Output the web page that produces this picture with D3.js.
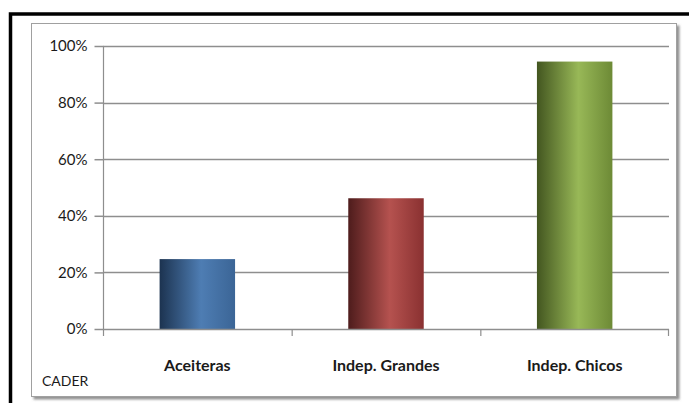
<!DOCTYPE html>
<html>
<head>
<meta charset="utf-8">
<script src="https://cdn.jsdelivr.net/npm/d3@7"></script>
<style>
body { margin: 0; background: #fff; }
svg { display: block; }
text { font-family: Lato, "Open Sans", sans-serif; fill: #1a1a1a; }
</style>
</head>
<body>
<div id="chart"></div>
<script>
// data
var categories = ['Aceiteras', 'Indep. Grandes', 'Indep. Chicos'];
var values     = [0.247, 0.462, 0.945];
var yTicks     = [0, 0.2, 0.4, 0.6, 0.8, 1.0];
var barColors  = [
	['#1c3350', '#4e7db3', '#3b6596'],
	['#4e1c1c', '#b5524f', '#8a3131'],
	['#435620', '#98b857', '#6d8a36']
];

var width = 689, height = 403;
var margin = {top: 46, right: 20, bottom: 74, left: 103};
var plotW = 669 - margin.left, plotH = 329 - margin.top;

var svg = d3.select('#chart').append('svg')
	.attr('width', width)
	.attr('height', height);

var defs = svg.append('defs');
barColors.forEach(function(c, i) {
	var g = defs.append('linearGradient')
		.attr('id', 'grad' + i)
		.attr('x1', '0%').attr('x2', '100%')
		.attr('y1', '0%').attr('y2', '0%');
	g.append('stop').attr('offset', '0%').attr('stop-color', c[0]);
	g.append('stop').attr('offset', '55%').attr('stop-color', c[1]);
	g.append('stop').attr('offset', '100%').attr('stop-color', c[2]);
});
var sh = defs.append('filter').attr('id', 'shadow')
	.attr('x', '-5%').attr('y', '-5%').attr('width', '110%').attr('height', '110%');
sh.append('feDropShadow').attr('dx', 2.5).attr('dy', 2.5).attr('stdDeviation', 1)
	.attr('flood-color', '#777').attr('flood-opacity', 0.8);

// outer black border (left and top visible)
svg.append('path')
	.attr('d', 'M10.5,403 L10.5,14 L689,14')
	.attr('fill', 'none')
	.attr('stroke', '#000')
	.attr('stroke-width', 3.5);

// chart frame
svg.append('rect')
	.attr('x', 31.5).attr('y', 23.5)
	.attr('width', 645).attr('height', 373)
	.attr('fill', '#fff')
	.attr('stroke', '#a0a0a0')
	.attr('stroke-width', 1)
	.attr('filter', 'url(#shadow)');

var vis = svg.append('g')
	.attr('transform', 'translate(' + margin.left + ',' + margin.top + ')');

var x = d3.scaleBand()
	.domain(categories)
	.range([0, plotW])
	.padding(0);

var y = d3.scaleLinear()
	.domain([0, 1])
	.range([plotH, 0]);

// gridlines
vis.append('g')
	.selectAll('line')
	.data(yTicks.slice(1))
	.enter().append('line')
	.attr('x1', 0).attr('x2', plotW)
	.attr('y1', function(d) { return Math.round(y(d)) + 0.5; })
	.attr('y2', function(d) { return Math.round(y(d)) + 0.5; })
	.attr('stroke', '#8e8e8e')
	.attr('stroke-width', 1.5);

// y axis
var yAxis = d3.axisLeft(y)
	.tickValues(yTicks)
	.tickSize(9)
	.tickPadding(7)
	.tickFormat(d3.format('.0%'));
var yg = vis.append('g').attr('transform', 'translate(0.5,0)').call(yAxis);
yg.select('.domain').attr('stroke', '#8e8e8e').attr('stroke-width', 1.2).attr('d', 'M0,0V' + plotH);
yg.selectAll('.tick line').attr('stroke', '#8e8e8e').attr('stroke-width', 1.5);
yg.selectAll('.tick text')
	.style('font-size', '15px')
	.style('font-family', 'Lato, sans-serif')
	.attr('fill', '#111');

// bars
var barW = x.bandwidth() * 0.4;
vis.append('g')
	.selectAll('rect')
	.data(values)
	.enter().append('rect')
	.attr('x', function(d, i) { return x(categories[i]) + (x.bandwidth() - barW) / 2; })
	.attr('y', function(d) { return y(d); })
	.attr('width', barW)
	.attr('height', function(d) { return plotH - y(d); })
	.attr('fill', function(d, i) { return 'url(#grad' + i + ')'; });

// x axis
var xAxis = d3.axisBottom(x)
	.tickSize(0)
	.tickPadding(31);
var xg = vis.append('g').attr('transform', 'translate(0,' + plotH + ')').call(xAxis);
xg.select('.domain').attr('stroke', '#8e8e8e').attr('stroke-width', 1.5).attr('d', 'M0,0.5H' + plotW);
xg.selectAll('.tick text')
	.style('font-size', '16px')
	.style('font-weight', 'bold')
	.style('font-family', 'Lato, sans-serif')
	.attr('fill', '#000');

// category boundary ticks
vis.append('g')
	.selectAll('line')
	.data(categories.concat(['end']))
	.enter().append('line')
	.attr('x1', function(d, i) { return i < categories.length ? x(d) + 0.5 : plotW - 0.5; })
	.attr('x2', function(d, i) { return i < categories.length ? x(d) + 0.5 : plotW - 0.5; })
	.attr('y1', plotH).attr('y2', plotH + 7)
	.attr('stroke', '#8e8e8e')
	.attr('stroke-width', 1.2);

// source note
svg.append('text')
	.attr('x', 42).attr('y', 386)
	.style('font-size', '14px')
	.attr('fill', '#222')
	.text('CADER');
</script>
</body>
</html>
